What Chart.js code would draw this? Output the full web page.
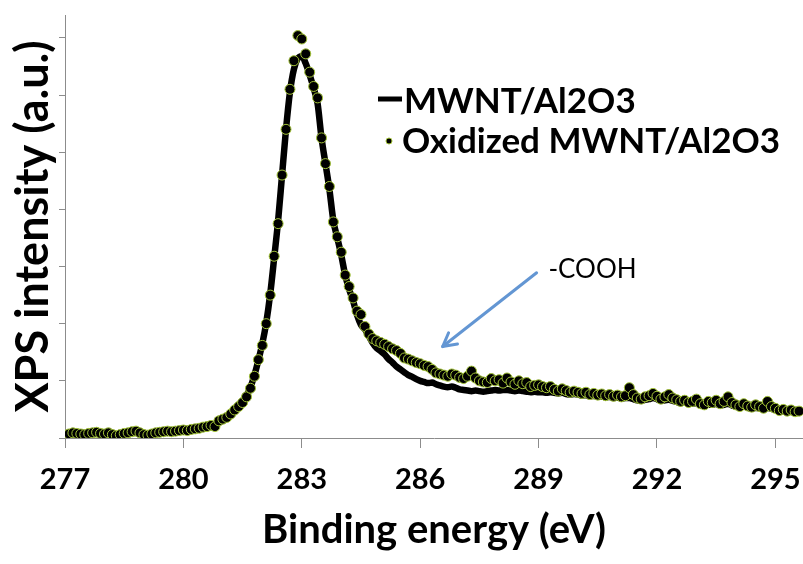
<!DOCTYPE html>
<html>
<head>
<meta charset="utf-8">
<script src="https://cdn.jsdelivr.net/npm/chart.js@4.4.0/dist/chart.umd.min.js"></script>
<style>
  html, body { margin: 0; padding: 0; background: #fff; overflow: hidden; }
</style>
</head>
<body>
<canvas id="xps" width="803" height="564"></canvas>
<script>
// binding energy (eV), one reading every 0.1 eV
const energy = [
  277.0, 277.1, 277.2, 277.3, 277.4, 277.5, 277.6, 277.7, 277.8, 277.9,
  278.0, 278.1, 278.2, 278.3, 278.4, 278.5, 278.6, 278.7, 278.8, 278.9,
  279.0, 279.1, 279.2, 279.3, 279.4, 279.5, 279.6, 279.7, 279.8, 279.9,
  280.0, 280.1, 280.2, 280.3, 280.4, 280.5, 280.6, 280.7, 280.8, 280.9,
  281.0, 281.1, 281.2, 281.3, 281.4, 281.5, 281.6, 281.7, 281.8, 281.9,
  282.0, 282.1, 282.2, 282.3, 282.4, 282.5, 282.6, 282.7, 282.8, 282.9,
  283.0, 283.1, 283.2, 283.3, 283.4, 283.5, 283.6, 283.7, 283.8, 283.9,
  284.0, 284.1, 284.2, 284.3, 284.4, 284.5, 284.6, 284.7, 284.8, 284.9,
  285.0, 285.1, 285.2, 285.3, 285.4, 285.5, 285.6, 285.7, 285.8, 285.9,
  286.0, 286.1, 286.2, 286.3, 286.4, 286.5, 286.6, 286.7, 286.8, 286.9,
  287.0, 287.1, 287.2, 287.3, 287.4, 287.5, 287.6, 287.7, 287.8, 287.9,
  288.0, 288.1, 288.2, 288.3, 288.4, 288.5, 288.6, 288.7, 288.8, 288.9,
  289.0, 289.1, 289.2, 289.3, 289.4, 289.5, 289.6, 289.7, 289.8, 289.9,
  290.0, 290.1, 290.2, 290.3, 290.4, 290.5, 290.6, 290.7, 290.8, 290.9,
  291.0, 291.1, 291.2, 291.3, 291.4, 291.5, 291.6, 291.7, 291.8, 291.9,
  292.0, 292.1, 292.2, 292.3, 292.4, 292.5, 292.6, 292.7, 292.8, 292.9,
  293.0, 293.1, 293.2, 293.3, 293.4, 293.5, 293.6, 293.7, 293.8, 293.9,
  294.0, 294.1, 294.2, 294.3, 294.4, 294.5, 294.6, 294.7, 294.8, 294.9,
  295.0, 295.1, 295.2, 295.3, 295.4, 295.5, 295.6
];

// MWNT/Al2O3 (solid line)
const mwnt = [
  0.06, 0.07, 0.08, 0.08, 0.07, 0.07, 0.08, 0.09, 0.09, 0.08,
  0.08, 0.08, 0.06, 0.05, 0.06, 0.08, 0.09, 0.10, 0.11, 0.09,
  0.07, 0.06, 0.07, 0.09, 0.10, 0.11, 0.11, 0.11, 0.12, 0.13,
  0.13, 0.14, 0.15, 0.16, 0.17, 0.19, 0.20, 0.21, 0.24, 0.28,
  0.32, 0.36, 0.41, 0.48, 0.55, 0.63, 0.74, 0.89, 1.10, 1.36,
  1.65, 2.02, 2.52, 3.15, 3.80, 4.60, 5.40, 6.05, 6.45, 6.64,
  6.68, 6.55, 6.35, 6.12, 5.85, 5.25, 4.80, 4.35, 3.80, 3.50,
  3.20, 2.85, 2.60, 2.40, 2.15, 1.98, 1.90, 1.78, 1.66, 1.57,
  1.52, 1.46, 1.38, 1.32, 1.25, 1.20, 1.15, 1.10, 1.07, 1.03,
  1.00, 0.98, 0.96, 0.97, 0.94, 0.92, 0.90, 0.89, 0.90, 0.88,
  0.85, 0.84, 0.83, 0.82, 0.83, 0.82, 0.81, 0.82, 0.83, 0.84,
  0.83, 0.84, 0.84, 0.83, 0.82, 0.83, 0.82, 0.81, 0.80, 0.81,
  0.80, 0.80, 0.79, 0.80, 0.79, 0.78, 0.79, 0.77, 0.76, 0.77,
  0.76, 0.74, 0.75, 0.73, 0.74, 0.72, 0.73, 0.71, 0.72, 0.70,
  0.71, 0.69, 0.70, 0.70, 0.68, 0.66, 0.65, 0.67, 0.68, 0.70,
  0.68, 0.65, 0.66, 0.67, 0.65, 0.63, 0.61, 0.62, 0.60, 0.60,
  0.61, 0.58, 0.56, 0.58, 0.58, 0.60, 0.57, 0.58, 0.60, 0.57,
  0.55, 0.53, 0.55, 0.53, 0.51, 0.53, 0.52, 0.50, 0.53, 0.51,
  0.49, 0.47, 0.48, 0.46, 0.47, 0.45, 0.46
];

// Oxidized MWNT/Al2O3 (dots)
const oxidized = [
  0.05, 0.07, 0.09, 0.08, 0.07, 0.06, 0.08, 0.09, 0.10, 0.08,
  0.07, 0.09, 0.06, 0.04, 0.06, 0.08, 0.09, 0.11, 0.12, 0.09,
  0.06, 0.05, 0.07, 0.09, 0.10, 0.11, 0.12, 0.11, 0.12, 0.13,
  0.14, 0.13, 0.15, 0.16, 0.17, 0.19, 0.20, 0.22, 0.20, 0.30,
  0.33, 0.36, 0.42, 0.49, 0.55, 0.62, 0.72, 0.87, 1.08, 1.37,
  1.62, 2.00, 2.50, 3.18, 3.75, 4.60, 5.40, 6.10, 6.60, 7.04,
  6.98, 6.72, 6.40, 6.15, 5.95, 5.25, 4.80, 4.40, 3.78, 3.52,
  3.25, 2.85, 2.65, 2.45, 2.22, 2.16, 1.95, 1.82, 1.74, 1.70,
  1.67, 1.64, 1.60, 1.56, 1.53, 1.48, 1.40, 1.38, 1.35, 1.32,
  1.30, 1.27, 1.25, 1.20, 1.14, 1.12, 1.10, 1.08, 1.12, 1.10,
  1.06, 1.04, 1.08, 1.17, 1.05, 1.00, 0.98, 0.97, 1.04, 1.00,
  1.02, 0.96, 1.05, 0.98, 0.94, 1.00, 0.95, 0.97, 0.90, 0.92,
  0.93, 0.90, 0.88, 0.90, 0.85, 0.82, 0.86, 0.83, 0.80, 0.82,
  0.80, 0.78, 0.80, 0.76, 0.78, 0.75, 0.77, 0.74, 0.76, 0.73,
  0.75, 0.72, 0.74, 0.88, 0.76, 0.70, 0.68, 0.72, 0.74, 0.78,
  0.73, 0.68, 0.72, 0.76, 0.70, 0.67, 0.64, 0.66, 0.62, 0.64,
  0.68, 0.60, 0.58, 0.64, 0.62, 0.66, 0.60, 0.64, 0.72, 0.62,
  0.58, 0.55, 0.60, 0.56, 0.54, 0.58, 0.55, 0.52, 0.64, 0.55,
  0.52, 0.48, 0.50, 0.47, 0.49, 0.46, 0.47
];

const xTicks = [277, 280, 283, 286, 289, 292, 295];
const yTicks = [0, 1, 2, 3, 4, 5, 6, 7];

const seriesNames = ['MWNT/Al2O3', 'Oxidized MWNT/Al2O3'];
const noteText = '-COOH';
const arrowFrom = [288.95, 2.89];
const arrowTo = [286.57, 1.60];
const notePos = [289.25, 2.95];

const axisGrey = '#8c8c8c';
const dotEdge = '#a3c437';

Chart.defaults.font.family = 'Lato, "Open Sans", sans-serif';
Chart.defaults.color = '#000';

const overlay = {
  id: 'overlay',
  beforeDraw(chart) {
    const ctx = chart.ctx;
    ctx.save();
    ctx.fillStyle = '#fff';
    ctx.fillRect(0, 0, chart.width, chart.height);
    ctx.restore();
  },
  afterDraw(chart) {
    const { ctx, scales: { x, y } } = chart;
    ctx.save();

    // arrow pointing at the -COOH shoulder
    const x0 = x.getPixelForValue(arrowFrom[0]);
    const y0 = y.getPixelForValue(arrowFrom[1]);
    const x1 = x.getPixelForValue(arrowTo[0]);
    const y1 = y.getPixelForValue(arrowTo[1]);
    ctx.strokeStyle = '#6396d3';
    ctx.lineWidth = 3;
    ctx.lineCap = 'round';
    ctx.lineJoin = 'round';
    ctx.beginPath();
    ctx.moveTo(x0, y0);
    ctx.lineTo(x1, y1);
    ctx.stroke();
    const ang = Math.atan2(y1 - y0, x1 - x0);
    const head = 15;
    ctx.beginPath();
    ctx.moveTo(x1 - head * Math.cos(ang - 0.5), y1 - head * Math.sin(ang - 0.5));
    ctx.lineTo(x1, y1);
    ctx.lineTo(x1 - head * Math.cos(ang + 0.5), y1 - head * Math.sin(ang + 0.5));
    ctx.stroke();

    ctx.fillStyle = '#000';
    ctx.font = '26px Lato';
    ctx.textBaseline = 'middle';
    ctx.textAlign = 'left';
    ctx.fillText(noteText, x.getPixelForValue(notePos[0]), y.getPixelForValue(notePos[1]));

    // legend
    ctx.font = 'bold 35px Lato';
    ctx.textBaseline = 'alphabetic';
    ctx.strokeStyle = '#000';
    ctx.lineWidth = 5;
    ctx.lineCap = 'butt';
    ctx.beginPath();
    ctx.moveTo(378, 99);
    ctx.lineTo(402, 99);
    ctx.stroke();
    ctx.fillText(seriesNames[0], 404, 113);

    ctx.beginPath();
    ctx.arc(389, 141, 3, 0, Math.PI * 2);
    ctx.fillStyle = '#000';
    ctx.fill();
    ctx.strokeStyle = dotEdge;
    ctx.lineWidth = 1;
    ctx.stroke();
    ctx.fillStyle = '#000';
    ctx.fillText(seriesNames[1], 402, 153);
    ctx.restore();
  }
};

new Chart(document.getElementById('xps'), {
  type: 'line',
  data: {
    datasets: [
      {
        label: seriesNames[1],
        data: energy.map((e, i) => ({ x: e, y: oxidized[i] })),
        showLine: false,
        pointRadius: 5,
        pointBackgroundColor: '#000',
        pointBorderColor: dotEdge,
        pointBorderWidth: 1,
        order: 0
      },
      {
        label: seriesNames[0],
        data: energy.map((e, i) => ({ x: e, y: mwnt[i] })),
        borderColor: '#000',
        borderWidth: 6.5,
        pointRadius: 0,
        cubicInterpolationMode: 'monotone',
        order: 1
      }
    ]
  },
  options: {
    responsive: false,
    animation: false,
    layout: { autoPadding: false, padding: { top: 15, right: 0, left: 0, bottom: 0 } },
    plugins: {
      legend: { display: false },
      tooltip: { enabled: false }
    },
    scales: {
      x: {
        type: 'linear',
        min: 277,
        max: 295.7,
        afterBuildTicks: axis => { axis.ticks = xTicks.map(v => ({ value: v })); },
        afterFit: axis => {
          axis.height = 126;
          axis.paddingLeft = 0;
          axis.paddingRight = 0;
        },
        border: { color: axisGrey, width: 1 },
        grid: { drawOnChartArea: false, drawTicks: true, tickLength: 10, color: axisGrey },
        ticks: { font: { size: 29, weight: 'bold' }, color: '#000', padding: 14, maxRotation: 0 },
        title: {
          display: true,
          text: 'Binding energy (eV)',
          font: { size: 40, weight: 'bold' },
          color: '#000',
          padding: { top: 0, bottom: 10 }
        }
      },
      y: {
        min: 0,
        max: 7.4,
        afterBuildTicks: axis => { axis.ticks = yTicks.map(v => ({ value: v })); },
        afterFit: axis => { axis.width = 65; },
        border: { color: axisGrey, width: 1 },
        grid: { drawOnChartArea: false, drawTicks: true, tickLength: 6, color: axisGrey },
        ticks: { display: false },
        title: {
          display: true,
          text: 'XPS intensity (a.u.)',
          font: { size: 45, weight: 'bold' },
          color: '#000',
          padding: { top: 6, bottom: 0 }
        }
      }
    }
  },
  plugins: [overlay]
});
</script>
</body>
</html>
